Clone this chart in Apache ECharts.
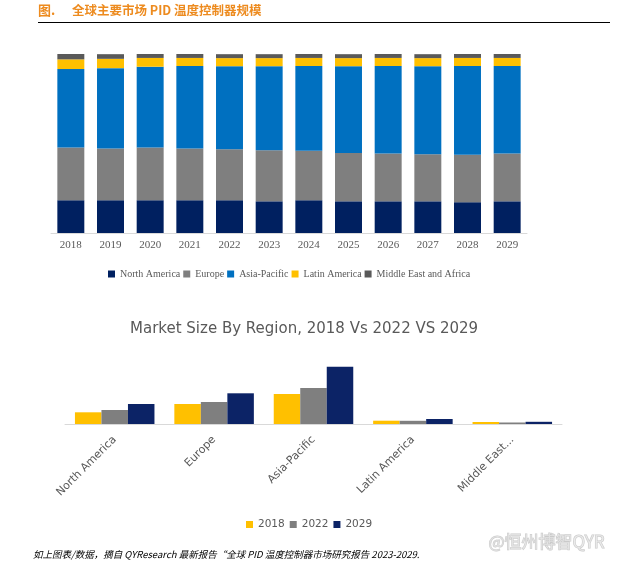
<!DOCTYPE html>
<html><head><meta charset="utf-8">
<script src="https://cdn.jsdelivr.net/npm/echarts@6/dist/echarts.min.js"></script>
<style>html,body{margin:0;padding:0;background:#fff}#c{width:640px;height:567px}</style>
</head><body><div id="c"></div>
<script>
// ---- Data ----
const years = ['2018','2019','2020','2021','2022','2023','2024','2025','2026','2027','2028','2029'];
const regions = ['North America','Europe','Asia-Pacific','Latin America','Middle East and Africa'];
// share of global market (%), stacked to 100
const northAmerica = [18.3,18.3,18.3,18.3,18.3,17.7,18.3,17.7,17.7,17.7,17.2,17.7];
const europe       = [29.5,28.9,29.5,28.9,28.5,28.5,27.6,27.0,26.7,26.3,26.5,26.7];
const asiaPacific  = [43.8,44.9,45.1,46.1,46.4,47.0,47.4,48.5,48.9,49.2,49.6,48.9];
const latinAmerica = [5.4,5.2,4.9,4.5,4.5,4.5,4.5,4.5,4.5,4.5,4.5,4.5];
const middleEast   = [3.0,2.6,2.2,2.2,2.2,2.2,2.2,2.2,2.2,2.2,2.2,2.2];
// market size by region (relative units)
const compareYears = ['2018','2022','2029'];
const size2018 = [117,200,300,33,20];
const size2022 = [140,220,360,32,15];
const size2029 = [200,307,573,50,22];

const topColors = ['#002060','#7f7f7f','#0070c0','#ffc000','#595959'];
const cmpColors = ['#ffc000','#7f7f7f','#0c2366'];
const shares = [northAmerica, europe, asiaPacific, latinAmerica, middleEast];
const sizes = [size2018, size2022, size2029];

const hand = 'DejaVu Sans';
const serif = 'Liberation Serif';

const chart = echarts.init(document.getElementById('c'), null, {renderer:'canvas'});
const series = [];
regions.forEach((r,i)=>{
  series.push({name:r,type:'bar',stack:'share',xAxisIndex:0,yAxisIndex:0,data:shares[i],
    barCategoryGap:'32%',itemStyle:{color:topColors[i]},emphasis:{disabled:true}});
});
compareYears.forEach((y,i)=>{
  series.push({name:y,type:'bar',xAxisIndex:1,yAxisIndex:1,data:sizes[i],
    barCategoryGap:'20%',barGap:'0%',itemStyle:{color:cmpColors[i]},emphasis:{disabled:true}});
});

chart.setOption({
  animation:false,
  backgroundColor:'#fff',
  graphic:[
    {type:'text',left:38,top:4,style:{text:'图.',font:'bold 13px "Noto Sans CJK SC"',fill:'#ed8b1f'}},
    {type:'text',left:72,top:4,style:{text:'全球主要市场 PID 温度控制器规模',font:'bold 12.5px "Noto Sans CJK SC"',fill:'#ed8b1f'}},
    {type:'line',shape:{x1:38,y1:22.5,x2:610,y2:22.5},style:{stroke:'#000',lineWidth:1}},
    {type:'text',left:130,top:322,style:{text:'Market Size By Region, 2018 Vs 2022 VS 2029',font:'15px "'+hand+'"',fill:'#595959'}},
    {type:'text',left:33,top:550,style:{text:'如上图表/数据，摘自 QYResearch 最新报告“全球 PID 温度控制器市场研究报告 2023-2029.',font:'italic 9.5px "Noto Sans CJK SC"',fill:'#000'}},
    {type:'text',left:488,top:533,style:{text:'@恒州博智QYR',font:'17px "Noto Sans CJK SC"',fill:'rgba(235,235,235,0.6)',stroke:'rgba(180,180,180,0.7)',lineWidth:1}}
  ],
  legend:[
    {data:regions,left:103,top:264,icon:'rect',itemWidth:7,itemHeight:7,itemGap:3,
     textStyle:{fontFamily:serif,fontSize:10,color:'#595959'},selectedMode:false},
    {data:compareYears,left:241,top:514,icon:'rect',itemWidth:7,itemHeight:7,itemGap:5,
     textStyle:{fontFamily:hand,fontSize:10.5,color:'#595959'},selectedMode:false}
  ],
  grid:[
    {left:51,right:113,top:54,bottom:334,containLabel:false},
    {left:65,right:78,top:364,bottom:143,containLabel:false}
  ],
  xAxis:[
    {type:'category',gridIndex:0,data:years,axisTick:{show:false},
     axisLine:{lineStyle:{color:'#d9d9d9'}},
     axisLabel:{fontFamily:serif,fontSize:11,color:'#595959',margin:7}},
    {type:'category',gridIndex:1,data:regions,axisTick:{show:false},
     axisLine:{lineStyle:{color:'#d9d9d9'}},
     axisLabel:{fontFamily:hand,fontSize:11,color:'#595959',rotate:45,margin:14,interval:0,
       formatter:v=>v.length>15?v.slice(0,11)+'...':v}}
  ],
  yAxis:[
    {type:'value',gridIndex:0,min:0,max:100,show:false},
    {type:'value',gridIndex:1,min:0,max:600,show:false}
  ],
  series:series
});
</script></body></html>
